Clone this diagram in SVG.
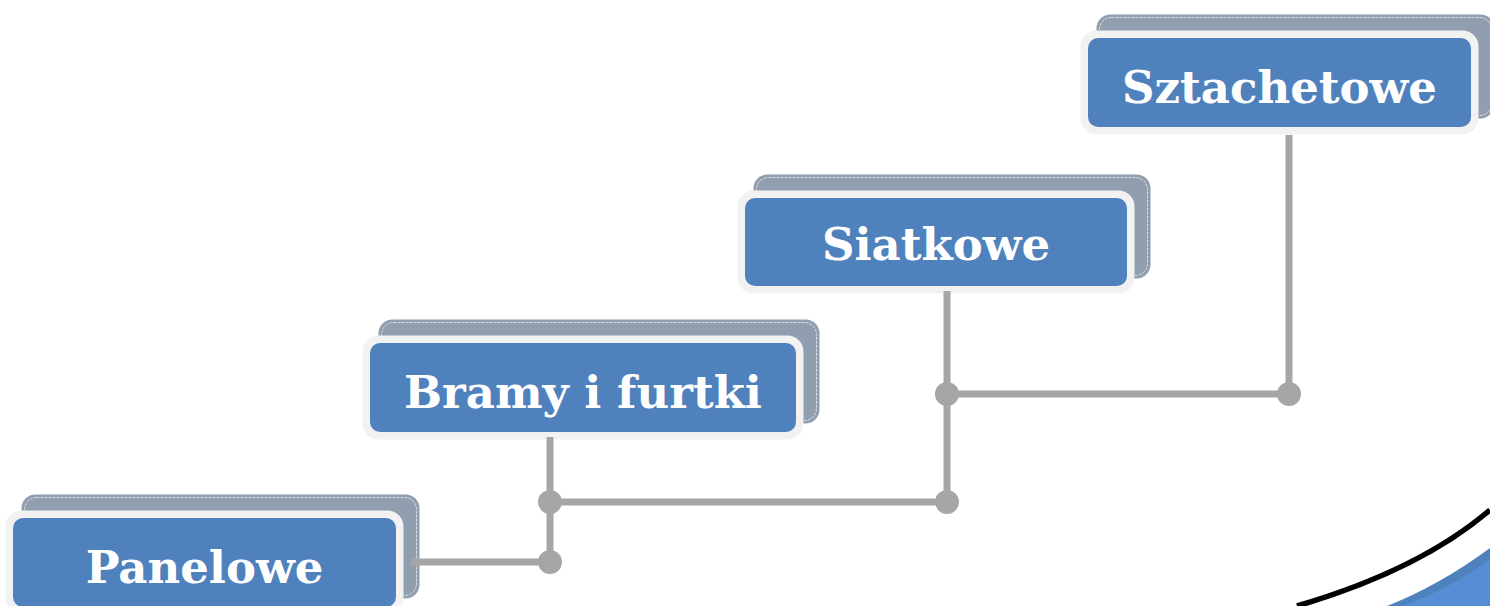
<svg xmlns="http://www.w3.org/2000/svg" width="1490" height="606" viewBox="0 0 1490 606">
<style>
.back{fill:#919EAF}
.backline{fill:none;stroke:#ffffff;stroke-width:0.8;stroke-dasharray:3 1;opacity:0.8}
.outer{fill:#F2F2F2}
.blue{fill:#4F81BD}
.lbl{font-family:"DejaVu Serif","Liberation Serif",serif;font-weight:bold;font-size:45px;fill:#ffffff;text-anchor:middle}
.conn{stroke:#A6A6A6;stroke-width:7;fill:none}
.dot{fill:#A6A6A6}
</style>
<rect width="1490" height="606" fill="#ffffff"/>
<g id="decor">
<path d="M1387,606 Q1440,585 1490,548 L1490,606 Z" fill="#4F81BD"/>
<path d="M1402,606 Q1452,588 1490,559 L1490,606 Z" fill="#558ED5"/>
<path d="M1297,606 Q1420,570 1490,510" fill="none" stroke="#000000" stroke-width="5.5"/>
</g>
<g id="node-panelowe">
<rect class="back" x="21.5" y="494.5" width="398" height="104" rx="14"/>
<rect class="backline" x="24.5" y="497.5" width="392" height="98" rx="12"/>
<rect class="outer" x="5.5" y="510.5" width="398" height="104" rx="16"/>
<rect class="blue" x="13" y="518" width="383" height="89" rx="10"/>
<text class="lbl" x="204.5" y="583">Panelowe</text>
</g>
<g id="node-bramy">
<rect class="back" x="378.5" y="319.5" width="441" height="104" rx="14"/>
<rect class="backline" x="381.5" y="322.5" width="435" height="98" rx="12"/>
<rect class="outer" x="362.5" y="335.5" width="441" height="104" rx="16"/>
<rect class="blue" x="370" y="343" width="426" height="89" rx="10"/>
<text class="lbl" x="583" y="408">Bramy i furtki</text>
</g>
<g id="node-siatkowe">
<rect class="back" x="753.5" y="174.5" width="397" height="104" rx="14"/>
<rect class="backline" x="756.5" y="177.5" width="391" height="98" rx="12"/>
<rect class="outer" x="737.5" y="190.5" width="397" height="103" rx="16"/>
<rect class="blue" x="745" y="198" width="382" height="88" rx="10"/>
<text class="lbl" x="936" y="260">Siatkowe</text>
</g>
<g id="node-sztachetowe">
<rect class="back" x="1096.5" y="14.5" width="398" height="104" rx="14"/>
<rect class="backline" x="1099.5" y="17.5" width="392" height="98" rx="12"/>
<rect class="outer" x="1080.5" y="30.5" width="398" height="104" rx="16"/>
<rect class="blue" x="1088" y="38" width="383" height="89" rx="10"/>
<text class="lbl" x="1279.5" y="103">Sztachetowe</text>
</g>
<g id="connectors">
<path class="conn" d="M411,562 H550 M550,437 V562 M550,502 H947 M947,291 V502 M947,394 H1289 M1289,135 V394"/>
<circle class="dot" cx="550" cy="562" r="12"/>
<circle class="dot" cx="550" cy="502" r="12"/>
<circle class="dot" cx="947" cy="502" r="12"/>
<circle class="dot" cx="947" cy="394" r="12"/>
<circle class="dot" cx="1289" cy="394" r="12"/>
</g>
</svg>
